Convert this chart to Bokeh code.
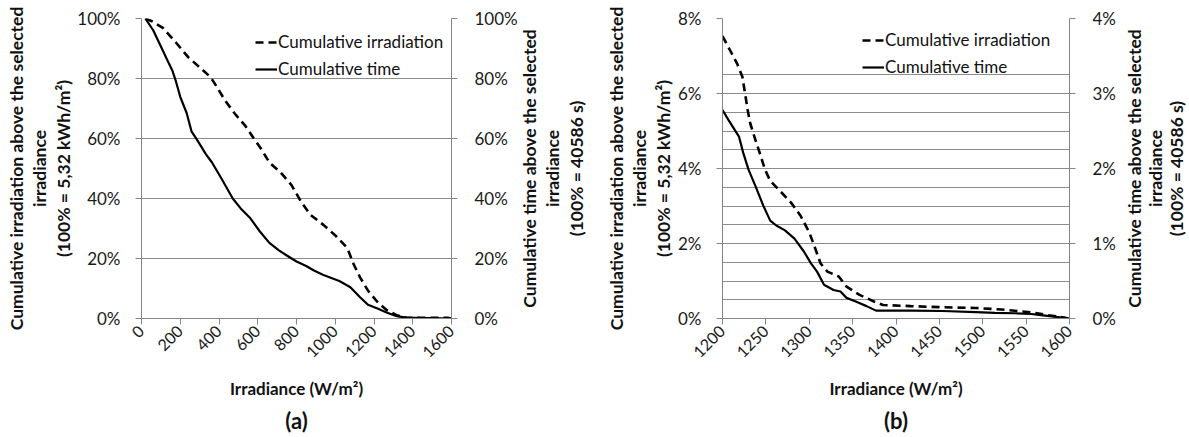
import math
from bokeh.plotting import figure
from bokeh.models import Range1d, LinearAxis, FixedTicker, PrintfTickFormatter, Legend, LegendItem
from bokeh.layouts import row
from bokeh.embed import file_html
from bokeh.resources import INLINE

# ---------------- data: panel (a) ----------------
a_irr_w = [20, 53, 110, 184, 241, 299, 356, 389, 430, 479, 537, 578, 619, 660, 718, 775, 824,
           873, 939, 1005, 1062, 1095, 1128, 1169, 1218, 1268, 1317, 1366, 1432, 1500, 1580, 1600]
a_irr_pct = [100, 99.1, 96.9, 91.5, 87.1, 83.8, 80.5, 77.2, 72.8, 68.5, 64.1, 60.2, 56.4, 52, 48.7,
             44.4, 38.9, 34.5, 31.2, 27.4, 23.5, 18.1, 13.7, 9.3, 5.5, 2.7, 1.1, 0.3, 0.2, 0.2, 0.2, 0]
a_time_w = [20, 61, 102, 143, 159, 176, 200, 233, 258, 291, 332, 364, 414, 471, 512, 562, 611, 660,
            709, 750, 800, 850, 890, 939, 1021, 1078, 1128, 1169, 1218, 1268, 1317, 1366, 1432, 1600]
a_time_pct = [100, 96, 90.4, 84.8, 82.7, 79.4, 73.9, 68.5, 62.4, 59.1, 54.8, 52, 46.5, 40, 36.7, 33.4,
              29, 25.2, 22.7, 21, 19, 17.5, 16, 14.5, 12.5, 10.4, 7.1, 4.6, 3.3, 1.9, 0.8, 0.3, 0.2, 0]

# ---------------- data: panel (b) ----------------
b_irr_w = [1200, 1209, 1217, 1223, 1226, 1229, 1232, 1238, 1243, 1249, 1255, 1268, 1279, 1290, 1300,
           1307, 1313, 1321, 1334, 1343, 1358, 1374, 1385, 1417, 1454, 1492, 1522, 1545, 1560, 1575,
           1590, 1599]
b_irr_pct = [7.53, 7.14, 6.79, 6.44, 6.0, 5.56, 5.2, 4.76, 4.41, 3.97, 3.67, 3.36, 3.09, 2.74, 2.30,
             1.86, 1.47, 1.25, 1.12, 0.85, 0.63, 0.46, 0.36, 0.33, 0.30, 0.28, 0.24, 0.19, 0.15, 0.09,
             0.04, 0]
b_time_w = [1200, 1207, 1219, 1224, 1230, 1238, 1247, 1255, 1262, 1272, 1283, 1294, 1302, 1309, 1317,
            1328, 1336, 1343, 1355, 1366, 1377, 1396, 1417, 1454, 1492, 1514, 1537, 1556, 1567, 1582,
            1594, 1599]
b_time_pct = [2.78, 2.645, 2.425, 2.205, 1.985, 1.765, 1.505, 1.305, 1.24, 1.175, 1.065, 0.89, 0.735,
              0.625, 0.45, 0.38, 0.36, 0.275, 0.22, 0.165, 0.105, 0.105, 0.105, 0.1, 0.085, 0.075,
              0.07, 0.06, 0.045, 0.025, 0.01, 0]

a_x_ticks = [0, 200, 400, 600, 800, 1000, 1200, 1400, 1600]
a_y_ticks = [0, 20, 40, 60, 80, 100]
b_x_ticks = [1200, 1250, 1300, 1350, 1400, 1450, 1500, 1550, 1600]
b_yl_ticks = [0, 2, 4, 6, 8]
b_yr_ticks = [0, 1, 2, 3, 4]
b_minor_grid = [0.5, 1, 1.5, 2.5, 3, 3.5, 4.5, 5, 5.5, 6.5]

left_title = "Cumulative irradiation above the selected\nirradiance\n(100% = 5,32 kWh/m²)"
right_title = "Cumulative time above the selected\nirradiance\n(100% = 40586 s)"
x_title = "Irradiance (W/m²)"
leg_irr = "Cumulative irradiation"
leg_time = "Cumulative time"

FONT = "Lato"
AX = "#868686"
GRID = "#8c8c8c"
H = 437
FRAME_TOP = 18
FRAME_BOTTOM = 321


def style_axis(ax, ticks, fmt="%d%%"):
    ax.ticker = FixedTicker(ticks=ticks)
    ax.formatter = PrintfTickFormatter(format=fmt)
    ax.axis_line_color = AX
    ax.major_tick_line_color = AX
    ax.major_tick_out = 6
    ax.major_tick_in = 0
    ax.minor_tick_line_color = None
    ax.major_label_text_font = FONT
    ax.major_label_text_font_size = "17px"
    ax.major_label_text_color = "#1a1a1a"
    ax.major_label_standoff = 17
    ax.axis_label_text_font = FONT
    ax.axis_label_text_font_size = "17px"
    ax.axis_label_text_font_style = "bold"
    ax.axis_label_text_color = "#111111"


def vtitle(width, mb_left, text, line_h):
    """Narrow strip whose only content is a rotated multi-line axis title."""
    p = figure(width=width, height=H, output_backend="svg", toolbar_location=None,
               x_range=Range1d(0, 1), y_range=Range1d(0, 1), x_axis_location=None,
               min_border_left=mb_left, min_border_right=width - mb_left - 1,
               min_border_top=FRAME_TOP, min_border_bottom=H - FRAME_BOTTOM)
    p.outline_line_color = None
    p.grid.grid_line_color = None
    ax = p.yaxis[0]
    ax.ticker = FixedTicker(ticks=[])
    ax.axis_line_color = None
    ax.major_tick_line_color = None
    ax.minor_tick_line_color = None
    ax.major_tick_out = 0
    ax.major_label_standoff = 0
    ax.axis_label = text
    ax.axis_label_standoff = 0
    ax.axis_label_text_font = FONT
    ax.axis_label_text_font_size = "17.5px"
    ax.axis_label_text_font_style = "bold"
    ax.axis_label_text_color = "#111111"
    ax.axis_label_text_line_height = line_h
    return p


def make_panel(width, mb_left, mb_right, xr, yr, yr2, xt, ylt, yrt, irr_w, irr_p, time_w, time_p,
               tag, leg_loc, minor=None):
    p = figure(width=width, height=H, output_backend="svg", toolbar_location=None,
               x_range=Range1d(*xr), y_range=Range1d(*yr),
               min_border_left=mb_left, min_border_right=mb_right,
               min_border_top=FRAME_TOP, min_border_bottom=H - FRAME_BOTTOM)
    p.extra_y_ranges = {"r": Range1d(*yr2)}
    p.outline_line_color = None
    p.xgrid.grid_line_color = None
    p.ygrid.grid_line_color = GRID
    p.ygrid.grid_line_width = 1
    if minor is not None:
        p.ygrid.minor_grid_line_color = GRID

    la = p.yaxis[0]
    style_axis(la, ylt)
    la.major_label_standoff = 15
    if minor is not None:
        la.ticker = FixedTicker(ticks=ylt, minor_ticks=minor)

    ra = LinearAxis(y_range_name="r")
    style_axis(ra, yrt)
    p.add_layout(ra, "right")

    xa = p.xaxis[0]
    style_axis(xa, xt, fmt="%d")
    xa.major_label_orientation = math.pi / 4
    xa.major_label_text_font_size = "16px"
    xa.major_label_standoff = 4
    xa.axis_label = x_title
    xa.axis_label_standoff = 12

    p.title.text = tag
    p.title_location = "below"
    p.title.align = "center"
    p.title.text_font = FONT
    p.title.text_font_size = "22px"
    p.title.text_font_style = "bold"
    p.title.text_color = "#111111"
    p.title.standoff = 7

    r1 = p.line(irr_w, irr_p, line_color="black", line_width=2.6, line_dash="8 5")
    r2 = p.line(time_w, time_p, line_color="black", line_width=2.2, y_range_name="r")

    leg = Legend(items=[LegendItem(label=leg_irr, renderers=[r1]),
                        LegendItem(label=leg_time, renderers=[r2])],
                 location=leg_loc, orientation="vertical")
    leg.background_fill_alpha = 0
    leg.border_line_color = None
    leg.padding = 0
    leg.margin = 0
    leg.spacing = 6
    leg.glyph_width = 22
    leg.glyph_height = 20
    leg.label_height = 20
    leg.label_standoff = 1
    leg.label_text_font = FONT
    leg.label_text_font_size = "17px"
    leg.label_text_color = "#111111"
    p.add_layout(leg, "center")
    return p


la_t = vtitle(74, 73, left_title, 1.1)
pa = make_panel(446, 59, 62, (0, 1600), (0, 100), (0, 100), a_x_ticks, a_y_ticks, a_y_ticks,
                a_irr_w, a_irr_pct, a_time_w, a_time_pct, "(a)", (114, 239))
ra_t = vtitle(66, 65, right_title, 1.1)
lb_t = vtitle(88, 87, left_title, 1.1)
pb = make_panel(444, 48, 42, (1200, 1600), (0, 8), (0, 4), b_x_ticks, b_yl_ticks, b_yr_ticks,
                b_irr_w, b_irr_pct, b_time_w, b_time_pct, "(b)", (140, 241), minor=b_minor_grid)
rb_t = vtitle(71, 68, right_title, 1.0)

layout = row(la_t, pa, ra_t, lb_t, pb, rb_t)
open("out.html", "w").write(file_html(layout, INLINE))
